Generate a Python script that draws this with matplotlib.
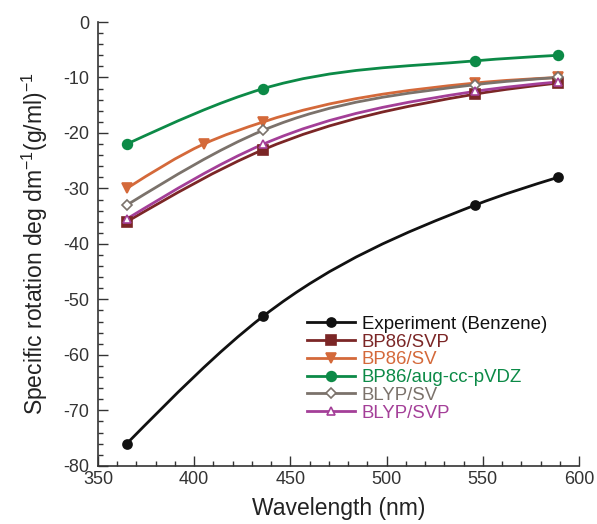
import numpy as np
import matplotlib
matplotlib.use('Agg')
from matplotlib import pyplot as plt
from matplotlib.path import Path
from matplotlib.patches import PathPatch
from matplotlib.lines import Line2D
from matplotlib.ticker import MultipleLocator

plt.rcParams['font.family'] = ['Liberation Sans', 'DejaVu Sans']
plt.rcParams['axes.unicode_minus'] = False
plt.rcParams['mathtext.fontset'] = 'custom'
plt.rcParams['mathtext.rm'] = 'Liberation Sans'
plt.rcParams['mathtext.default'] = 'regular'

labels = ['Experiment (Benzene)', 'BP86/SVP', 'BP86/SV', 'BP86/aug-cc-pVDZ',
          'BLYP/SV', 'BLYP/SVP']
colors = ['#111111', '#7b2626', '#d4693a', '#0c8a47', '#7b726b', '#a43f98']
markers = ['o', 's', 'v', 'o', 'D', '^']
filled = [True, True, True, True, False, False]
sizes = [6.5, 6.5, 6.5, 7, 5, 6]

wl = {
    'Experiment (Benzene)': [365, 436, 546, 589],
    'BP86/SVP': [365, 436, 546, 589],
    'BP86/SV': [365, 405, 436, 546, 589],
    'BP86/aug-cc-pVDZ': [365, 436, 546, 589],
    'BLYP/SV': [365, 436, 546, 589],
    'BLYP/SVP': [365, 436, 546, 589],
}
rot = {
    'Experiment (Benzene)': [-76, -53, -33, -28],
    'BP86/SVP': [-36, -23, -13, -11],
    'BP86/SV': [-30, -22, -18, -11, -10],
    'BP86/aug-cc-pVDZ': [-22, -12, -7, -6],
    'BLYP/SV': [-33, -19.5, -11.3, -10],
    'BLYP/SVP': [-35.5, -22, -12.5, -10.8],
}


def smooth_path(x, y):
    # cubic hermite through the points, slopes from neighbouring chords
    x = np.asarray(x, float)
    y = np.asarray(y, float)
    n = len(x)
    d = np.diff(y) / np.diff(x)
    m = np.empty(n)
    m[0], m[-1] = d[0], d[-1]
    for i in range(1, n - 1):
        h0, h1 = x[i] - x[i - 1], x[i + 1] - x[i]
        m[i] = (h1 * d[i - 1] + h0 * d[i]) / (h0 + h1)
    m[0] = 1.5 * d[0] - 0.5 * m[1]
    m[-1] = 1.5 * d[-1] - 0.5 * m[-2]
    verts = [(x[0], y[0])]
    codes = [Path.MOVETO]
    for i in range(n - 1):
        h = (x[i + 1] - x[i]) / 3.
        verts += [(x[i] + h, y[i] + m[i] * h),
                  (x[i + 1] - h, y[i + 1] - m[i + 1] * h),
                  (x[i + 1], y[i + 1])]
        codes += [Path.CURVE4] * 3
    return Path(verts, codes)


fig = plt.figure(figsize=(5.97, 5.24), dpi=100)
ax = fig.add_axes([0.164, 0.111, 0.806, 0.847])

draw_order = [0, 5, 4, 2, 1, 3]
for i in draw_order:
    lab = labels[i]
    x, y = wl[lab], rot[lab]
    ax.add_patch(PathPatch(smooth_path(x, y), facecolor='none',
                           edgecolor=colors[i], lw=2.0, zorder=2 + i * 0.1))
    ax.plot(x, y, ls='none', marker=markers[i], ms=sizes[i],
            color=colors[i], mfc=colors[i] if filled[i] else 'white',
            mew=1.2, zorder=3 + i * 0.1)

handles = []
for i, lab in enumerate(labels):
    handles.append(Line2D([], [], color=colors[i], lw=2.0, marker=markers[i],
                          ms=sizes[i], mfc=colors[i] if filled[i] else 'white',
                          mew=1.2))

leg = ax.legend(handles, labels, loc='upper left', bbox_to_anchor=(0.434, 0.338),
                frameon=False, fontsize=13.4, handlelength=2.6,
                handletextpad=0.35, labelspacing=0.04, borderpad=0,
                borderaxespad=0)
for t, c in zip(leg.get_texts(), colors):
    t.set_color(c)

ax.set_xlim(350, 600)
ax.set_ylim(-80, 0)
ax.xaxis.set_major_locator(MultipleLocator(50))
ax.xaxis.set_minor_locator(MultipleLocator(10))
ax.yaxis.set_major_locator(MultipleLocator(10))
ax.yaxis.set_minor_locator(MultipleLocator(2))
ax.tick_params(which='both', direction='in', colors='#333333', labelsize=13,
               width=1)
ax.tick_params(which='major', length=7)
ax.tick_params(which='minor', length=3.5)
ax.tick_params(axis='y', pad=6)
for s in ('top', 'right'):
    ax.spines[s].set_visible(False)
for s in ('left', 'bottom'):
    ax.spines[s].set_color('#333333')
    ax.spines[s].set_linewidth(1.2)

ax.set_xlabel('Wavelength (nm)', fontsize=16.5, color='#222222', labelpad=7)
ax.set_ylabel('Specific rotation deg dm$^{-1}$(g/ml)$^{-1}$', fontsize=16.5,
              color='#222222', labelpad=10)

fig.savefig('out.png', dpi=100)
